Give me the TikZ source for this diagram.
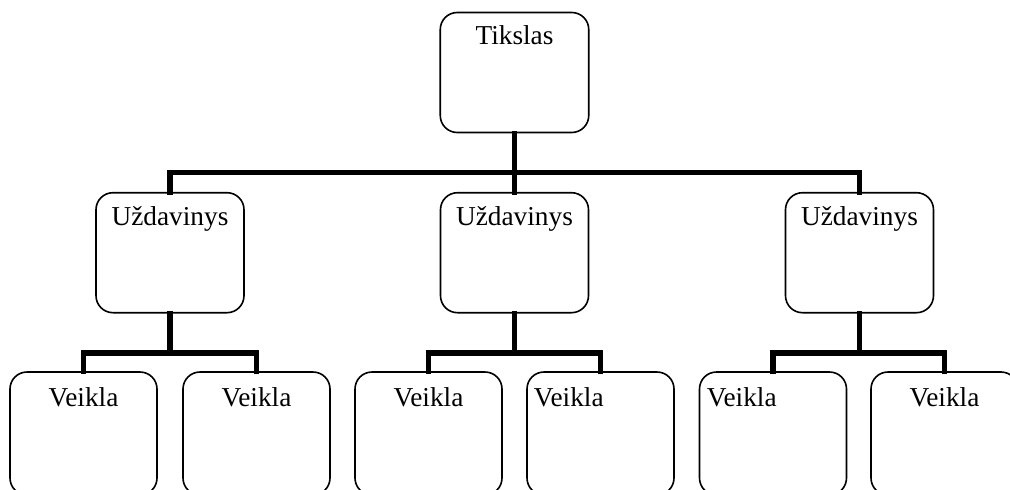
\documentclass[tikz,border=0pt]{standalone}
\usepackage{fontspec}
\setmainfont{Liberation Serif}
\begin{document}
\begin{tikzpicture}[x=1pt,y=-1pt,
  box/.style={draw=black, line width=1.6pt, rounded corners=17pt, rectangle, inner sep=0pt},
  midbox/.style={box, minimum width=148pt, minimum height=120pt},
  lowbox/.style={box, minimum width=147pt, minimum height=123pt},
  lbl/.style={anchor=base, inner sep=0pt, font=\fontsize{27.3}{32}\selectfont},
  lblw/.style={anchor=base west, inner sep=0pt, font=\fontsize{27.3}{32}\selectfont},
  conn/.style={draw=black, line width=5.5pt, line join=miter, line cap=rect}]
\useasboundingbox (0,0) rectangle (1010,490);
\begin{scope}
\clip (0,0) rectangle (1010,490);
% top
\node[midbox, minimum width=148.5pt] (t) at (514.5,72.5) {};
\node[lbl] (tt) at ([yshift=-32.5pt]t.north) {Tikslas};
% middle
\node[midbox] (m1) at (170,252.7) {};
\node[midbox] (m2) at (514.5,252.7) {};
\node[midbox] (m3) at (859.5,252.7) {};
\node[lbl] (m1t) at ([yshift=-33.5pt]m1.north) {Uždavinys};
\node[lbl] (m2t) at ([yshift=-33.5pt]m2.north) {Uždavinys};
\node[lbl] (m3t) at ([yshift=-33.5pt]m3.north) {Uždavinys};
% bottom
\node[lowbox] (b1) at (83.5,433.5) {};
\node[lowbox] (b2) at (256.5,433.5) {};
\node[lowbox] (b3) at (428.5,433.5) {};
\node[lowbox] (b4) at (600.5,433.5) {};
\node[lowbox] (b5) at (773,433.5) {};
\node[lowbox] (b6) at (944.5,433.5) {};
\node[lbl] (b1t) at ([yshift=-35pt]b1.north) {Veikla};
\node[lbl] (b2t) at ([yshift=-35pt]b2.north) {Veikla};
\node[lbl] (b3t) at ([yshift=-35pt]b3.north) {Veikla};
\node[lblw] (b4t) at ([xshift=7.5pt,yshift=-35pt]b4.north west) {Veikla};
\node[lblw] (b5t) at ([xshift=8pt,yshift=-35pt]b5.north west) {Veikla};
\node[lbl] (b6t) at ([yshift=-35pt]b6.north) {Veikla};
% bus levels
\coordinate (busA) at (0,172.5);
\coordinate (busB) at (0,353);
% connectors
\draw[conn] (t.south) -- (t.south |- busA);
\draw[conn] (m1.north) |- (m3.north |- busA) -- (m3.north);
\draw[conn] (t.south |- busA) -- (m2.north);
\draw[conn] (m1.south) -- (m1.south |- busB);
\draw[conn] (b1.north) |- (b2.north |- busB) -- (b2.north);
\draw[conn] (m2.south) -- (m2.south |- busB);
\draw[conn] (b3.north) |- (b4.north |- busB) -- (b4.north);
\draw[conn] (m3.south) -- (m3.south |- busB);
\draw[conn] (b5.north) |- (b6.north |- busB) -- (b6.north);
\end{scope}
\end{tikzpicture}
\end{document}
